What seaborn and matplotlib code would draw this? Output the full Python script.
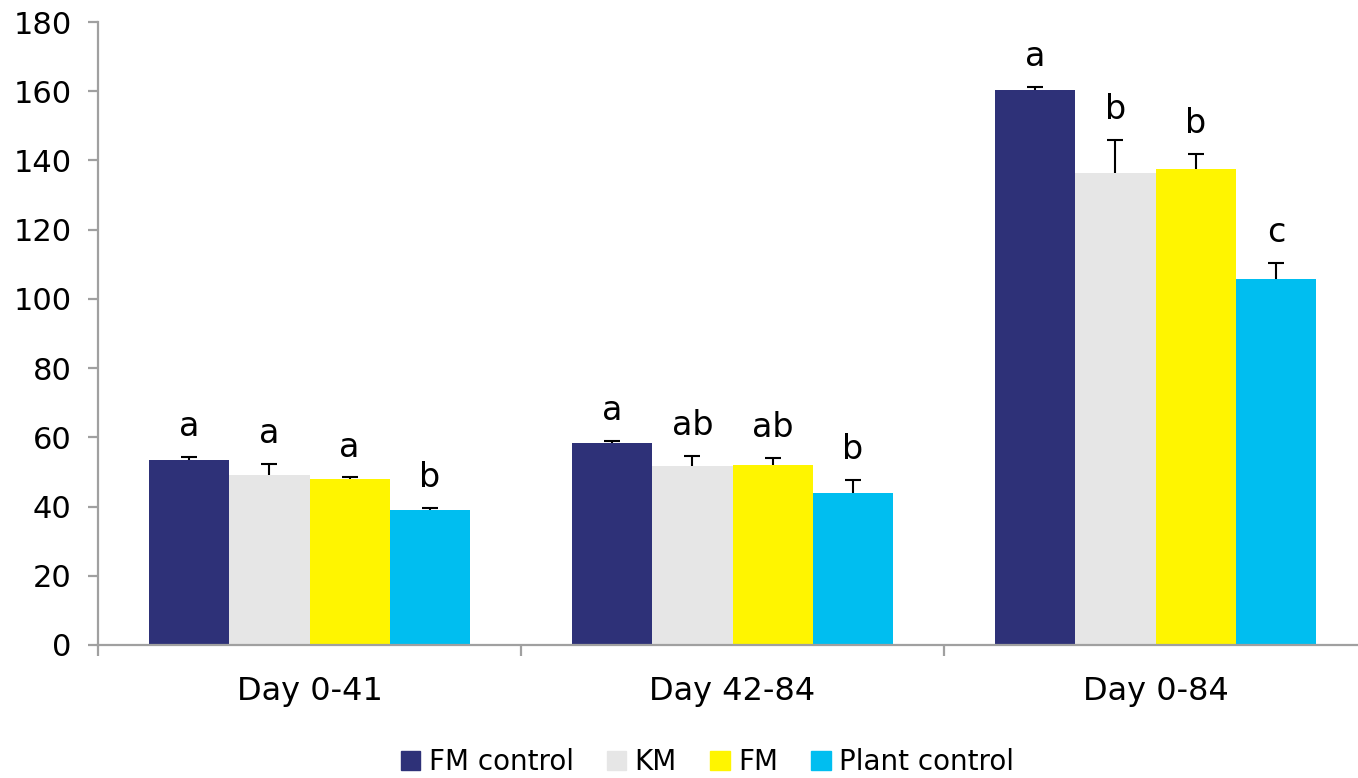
import pandas as pd
import matplotlib
matplotlib.use("Agg")
import matplotlib.pyplot as plt
import seaborn as sns

# Data
periods = ["Day 0-41", "Day 42-84", "Day 0-84"]
diets = ["FM control", "KM", "FM", "Plant control"]
means = {
    "FM control": [53.5, 58.3, 160.4],
    "KM": [49.1, 51.7, 136.3],
    "FM": [47.9, 51.9, 137.5],
    "Plant control": [39.0, 43.8, 105.7],
}
errors = {
    "FM control": [0.9, 0.7, 0.9],
    "KM": [3.2, 2.9, 9.6],
    "FM": [0.5, 2.1, 4.4],
    "Plant control": [0.5, 3.9, 4.6],
}
letters = {
    "FM control": ["a", "a", "a"],
    "KM": ["a", "ab", "b"],
    "FM": ["a", "ab", "b"],
    "Plant control": ["b", "b", "c"],
}
colors = ["#2E3178", "#E6E6E6", "#FFF500", "#00BEF0"]

rows = []
for d in diets:
    for i, p in enumerate(periods):
        rows.append({"period": p, "diet": d, "value": means[d][i]})
df = pd.DataFrame(rows)

sns.set_style("white")
plt.rcParams["font.family"] = ["DejaVu Sans"]
plt.rcParams["text.color"] = "black"
plt.rcParams["xtick.color"] = "black"
plt.rcParams["ytick.color"] = "black"

fig = plt.figure(figsize=(13.58, 7.78), dpi=100)
ax = fig.add_axes([98 / 1358, 1 - 645 / 778, 1269 / 1358, 623 / 778])

sns.barplot(data=df, x="period", y="value", hue="diet", order=periods,
            hue_order=diets, palette=colors, saturation=1, width=0.76,
            errorbar=None, linewidth=0, ax=ax, legend=True)

# upper error bars only, plus significance letters
for d, cont in zip(diets, ax.containers):
    for i, bar in enumerate(cont.patches):
        x = bar.get_x() + bar.get_width() / 2
        h = bar.get_height()
        top = h + errors[d][i]
        ax.plot([x, x], [h, top], color="black", lw=1.5, solid_capstyle="butt")
        ax.plot([x], [top], marker="_", color="black", markersize=11,
                markeredgewidth=1.5)
        ax.annotate(letters[d][i], (x, top), xytext=(0, 15),
                    textcoords="offset points", ha="center", va="baseline",
                    fontsize=24)

ax.set_ylim(0, 180)
ax.set_xlim(-0.5, 2.5)
ax.set_yticks(range(0, 181, 20))
ax.set_xticks([-0.5, 0.5, 1.5, 2.5])
ax.set_xticklabels([])
ax.set_xticks([0, 1, 2], minor=True)
ax.set_xticklabels(periods, minor=True)
ax.set_xlabel("")
ax.set_ylabel("")

gray = "#A0A0A0"
for s in ["top", "right"]:
    ax.spines[s].set_visible(False)
for s in ["left", "bottom"]:
    ax.spines[s].set_color(gray)
    ax.spines[s].set_linewidth(1.6)

ax.tick_params(axis="y", which="major", direction="out", length=7, width=1.6,
               color=gray, labelcolor="black", labelsize=22, pad=12, left=True)
ax.tick_params(axis="x", which="major", direction="out", length=8, width=1.6,
               color=gray, bottom=True)
ax.tick_params(axis="x", which="minor", length=0, labelsize=23,
               labelcolor="black", pad=22)

ax.get_legend().remove()
handles = [plt.Rectangle((0, 0), 1, 1, color=c) for c in colors]
fig.legend(handles, diets, loc="lower center", bbox_to_anchor=(0.521, -0.03),
           ncol=4, frameon=False, fontsize=20, handlelength=0.7,
           handleheight=0.7, handletextpad=0.3, columnspacing=1.2)

fig.savefig("out.png", dpi=100)
